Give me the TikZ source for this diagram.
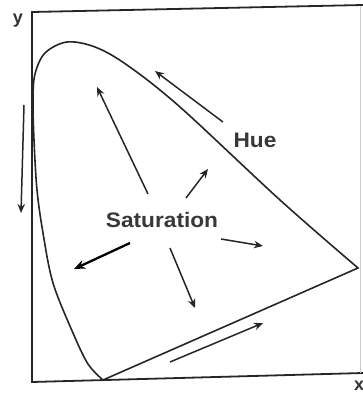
\documentclass[tikz,border=0pt]{standalone}
\usepackage{fontspec}
\setmainfont{Liberation Sans}
\usetikzlibrary{arrows.meta}
\begin{document}
\begin{tikzpicture}[x=1pt,y=-1pt,
  frame/.style={line width=1.8pt, black!85},
  locus/.style={line width=1.6pt, black!85},
  arr/.style={line width=1.5pt, black!85, -{Stealth[length=9pt,width=7.5pt]}},
  thickarr/.style={line width=2.3pt, black, -{Stealth[length=11pt,width=9pt]}},
  lab/.style={font=\fontsize{21}{21}\selectfont\bfseries, text=black!78, inner sep=0pt}]
\useasboundingbox (0,0) rectangle (363,394);
% frame (axes)
\coordinate (tl) at (32,12);
\coordinate (tr) at (363,5);
\coordinate (bl) at (32,382);
\coordinate (br) at (363,373);
\draw[frame] (tr) -- (tl) -- (bl) -- (br);
\draw[line width=0.8pt, black!20] (360,6) -- (360,373);
\node[font=\fontsize{18}{18}\selectfont\bfseries, text=black!80, inner sep=0pt] (ylab) at (18,21) {y};
\node[font=\fontsize{18}{18}\selectfont\bfseries, text=black!80, inner sep=0pt, anchor=west] (xlab) at (354,386) {x};
% spectral locus
\coordinate (red) at (358,268);
\coordinate (violet) at (103,380);
\draw[locus] plot[smooth, tension=0.55] coordinates {(103,380) (88,364) (73,333) (53,283) (43,233) (37,190) (34,140) (33,100) (35,74) (45,53) (67,42) (95,47) (127,65) (180,107) (280,200) (358,268)} -- (violet);
% labels
\node[lab] (hue) at (255,140) {\scalebox{1.08}[1]{Hue}};
\node[lab] (sat) at (162,220) {\scalebox{1.08}[1]{Saturation}};
% hue arrows
\coordinate (h1s) at (223,122); \coordinate (h1e) at (155,71);
\draw[arr] (h1s) -- (h1e);
\coordinate (h2s) at (24,105); \coordinate (h2e) at (21,213);
\draw[arr] (h2s) -- (h2e);
\coordinate (h3s) at (170,362); \coordinate (h3e) at (263,323);
\draw[arr] (h3s) -- (h3e);
% saturation arrows
\coordinate (s1s) at (148,194); \coordinate (s1e) at (97,87);
\draw[arr] (s1s) -- (s1e);
\coordinate (s2s) at (186,198); \coordinate (s2e) at (208,169);
\draw[arr] (s2s) -- (s2e);
\coordinate (s3s) at (221,239); \coordinate (s3e) at (263,246);
\draw[arr] (s3s) -- (s3e);
\coordinate (s4s) at (170,248); \coordinate (s4e) at (195,308);
\draw[arr] (s4s) -- (s4e);
\coordinate (s5s) at (130,243); \coordinate (s5e) at (74,269);
\draw[thickarr] (s5s) -- (s5e);
\end{tikzpicture}
\end{document}
